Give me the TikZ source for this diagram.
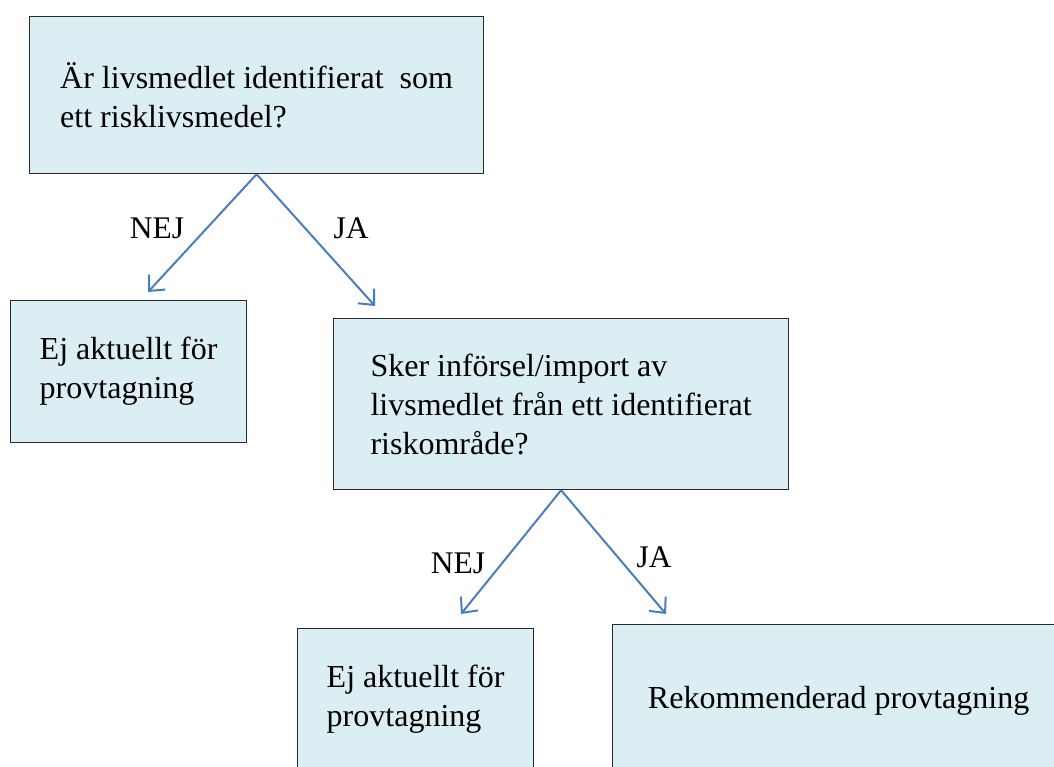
\documentclass[tikz,border=0pt]{standalone}
\usepackage{fontspec}
\setmainfont{Liberation Serif}
\usetikzlibrary{arrows.meta}
\definecolor{boxfill}{HTML}{DAEEF3}
\definecolor{boxline}{HTML}{2A2A2A}
\definecolor{arrowblue}{HTML}{4A7EBB}
\tikzset{
  box/.style={draw=boxline, line width=1.2pt, fill=boxfill, anchor=north west,
    font=\fontsize{32}{39}\selectfont, align=left, inner sep=0pt},
  lbl/.style={font=\fontsize{31.5}{38}\selectfont, inner sep=0pt},
  conn/.style={draw=arrowblue, line width=2pt,
    -{Straight Barb[length=12pt,width=22pt,line width=2pt]}}
}
\begin{document}
\begin{tikzpicture}[x=1pt,y=-1pt]
\useasboundingbox (0,0) rectangle (1054,766);
\clip (0,0) rectangle (1054,766);
\node[box, minimum width=454pt, minimum height=157pt] (q1) at (29,16)
  {Är livsmedlet identifierat\ \ som\\ett risklivsmedel?};
\node[box, minimum width=236pt, minimum height=142pt] (n1) at (10,300)
  {Ej aktuellt för\\provtagning};
\node[box, minimum width=455pt, minimum height=171pt] (q2) at (333,318)
  {Sker införsel/import av\\livsmedlet från ett identifierat\\riskområde?};
\node[box, minimum width=236pt, minimum height=142pt] (n2) at (297,628)
  {Ej aktuellt för\\provtagning};
\node[box, align=center, minimum width=452pt, minimum height=152pt] (r) at (612,624)
  {Rekommenderad provtagning};
\coordinate (e1) at (148,292);
\coordinate (e2) at (375,306);
\coordinate (e3) at (461,614);
\coordinate (e4) at (666,614);
\draw[conn] (q1.south) -- (e1);
\draw[conn] (q1.south) -- (e2);
\draw[conn] (q2.south) -- (e3);
\draw[conn] (q2.south) -- (e4);
\node[lbl] (l1) at (157,228) {NEJ};
\node[lbl] (l2) at (351,228) {JA};
\node[lbl] (l3) at (458,563) {NEJ};
\node[lbl] (l4) at (654,557) {JA};
\end{tikzpicture}
\end{document}
